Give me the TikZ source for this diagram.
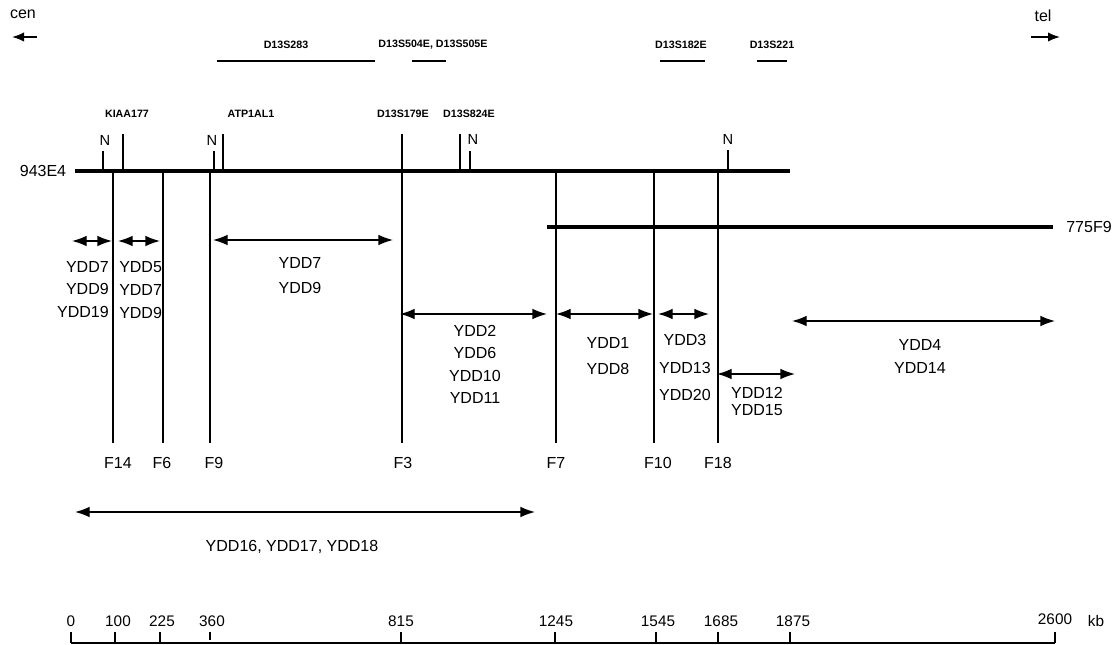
\documentclass[tikz,border=0pt]{standalone}
\usepackage{fontspec}
\setmainfont{Liberation Sans}
\usetikzlibrary{arrows.meta}

\begin{document}
\begin{tikzpicture}[x=0.75pt,y=-0.75pt,
  txt/.style={inner sep=0pt,font=\fontsize{12}{14}\selectfont},
  stack/.style={inner sep=0pt,align=center,font=\fontsize{12}{#1}\selectfont},
  gene/.style={inner sep=0pt,font=\fontsize{8}{9}\selectfont\bfseries},
  scalelab/.style={inner sep=0pt,font=\fontsize{11.5}{13}\selectfont},
  clone/.style={line width=3.5pt},
  bar/.style={line width=1.5pt},
  site/.style={line width=1.2pt},
  ydd/.style={line width=1pt,{Latex[length=11pt,width=8pt]}-{Latex[length=11pt,width=8pt]}},
  orient/.style={line width=1.2pt,-{Latex[length=9pt,width=7pt]}}]
  \useasboundingbox (0,0) rectangle (1115,645);
  % centromere / telomere
  \node[txt] (cen) at (23,14) {cen};
  \node[txt] (tel) at (1043,16) {tel};
  \coordinate (cenA) at (37,37);
  \coordinate (cenB) at (12,37);
  \coordinate (telA) at (1031,37);
  \coordinate (telB) at (1060,37);
  \draw[orient] (cenA) -- (cenB);
  \draw[orient] (telA) -- (telB);
  % markers
  \node[gene] (d283) at (286,45) {D13S283};
  \node[gene] (d504) at (433,45) {D13S504E, D13S505E};
  \node[gene] (d182) at (681,45) {D13S182E};
  \node[gene] (d221) at (772,45) {D13S221};
  \draw[bar] (217,61) -- (375,61);
  \draw[bar] (412,61) -- (446,61);
  \draw[bar] (660,61) -- (705,61);
  \draw[bar] (757,61) -- (787,61);
  % genes and NotI sites
  \node[gene] (kiaa) at (127,114) {KIAA177};
  \node[gene] (atp) at (251,114) {ATP1AL1};
  \node[gene] (d179) at (403,114) {D13S179E};
  \node[gene] (d824) at (469,114) {D13S824E};
  \node[txt,font=\fontsize{11}{13}\selectfont] (n1) at (105,140) {N};
  \node[txt,font=\fontsize{11}{13}\selectfont] (n2) at (212,140) {N};
  \node[txt,font=\fontsize{11}{13}\selectfont] (n3) at (473,139) {N};
  \node[txt,font=\fontsize{11}{13}\selectfont] (n4) at (728,139) {N};
  \draw[site] (103,151) -- (103,171);
  \draw[site] (123,134) -- (123,171);
  \draw[site] (214,151) -- (214,171);
  \draw[site] (223,134) -- (223,171);
  \draw[site] (460,134) -- (460,171);
  \draw[site] (470,151) -- (470,171);
  \draw[site] (728,150) -- (728,171);
  % clones
  \node[txt] (c943) at (43,171) {943E4};
  \node[txt] (c775) at (1089,227) {775F9};
  \draw[clone] (75,171) -- (790,171);
  \draw[clone] (547,227) -- (1053,227);
  % breakpoints
  \draw[site] (113,171) -- (113,443);
  \draw[site] (163,171) -- (163,443);
  \draw[site] (210,171) -- (210,443);
  \draw[site] (402,134) -- (402,443);
  \draw[site] (556,171) -- (556,443);
  \draw[site] (654,171) -- (654,443);
  \draw[site] (718,171) -- (718,443);
  \node[txt] (F14) at (118,463) {F14};
  \node[txt] (F6) at (162,463) {F6};
  \node[txt] (F9) at (214,463) {F9};
  \node[txt] (F3) at (403,463) {F3};
  \node[txt] (F7) at (556,463) {F7};
  \node[txt] (F10) at (658,463) {F10};
  \node[txt] (F18) at (718,463) {F18};
  % patient intervals
  \draw[ydd] (72,241) -- (112,241);
  \draw[ydd] (118,241) -- (160,241);
  \draw[ydd] (213,240) -- (393,240);
  \draw[ydd] (400,314) -- (547,314);
  \draw[ydd] (556,314) -- (653,314);
  \draw[ydd] (658,314) -- (709,314);
  \draw[ydd] (717,374) -- (795,374);
  \draw[ydd] (792,321) -- (1055,321);
  \draw[ydd] (75,512) -- (535,512);
  \node[stack=16.9pt,align=right,anchor=east] (p1) at (109,289.5) {YDD7\\YDD9\\YDD19};
  \node[stack=17.25pt,align=left,anchor=west] (p2) at (119,290) {YDD5\\YDD7\\YDD9};
  \node[stack=18.75pt] (p3) at (300,275.5) {YDD7\\YDD9};
  \node[stack=16.75pt] (p4) at (475,364.5) {YDD2\\YDD6\\YDD10\\YDD11};
  \node[stack=19.5pt] (p5) at (608,356) {YDD1\\YDD8};
  \node[stack=20.6pt] (p6) at (685,367.5) {YDD3\\YDD13\\YDD20};
  \node[stack=12.75pt] (p7) at (757,401.5) {YDD12\\YDD15};
  \node[stack=17.25pt] (p8) at (920,356.5) {YDD4\\YDD14};
  \node[txt] (p9) at (292,547) {YDD16, YDD17, YDD18};
  % scale
  \draw[site] (71,643) -- (1055,643);
  \draw[site] (71,632) -- (71,643);
  \draw[site] (115,632) -- (115,643);
  \draw[site] (160,632) -- (160,643);
  \draw[site] (210,632) -- (210,640);
  \draw[site] (401,632) -- (401,643);
  \draw[site] (555,632) -- (555,643);
  \draw[site] (656,632) -- (656,643);
  \draw[site] (718,632) -- (718,643);
  \draw[site] (790,632) -- (790,643);
  \draw[site] (1055,632) -- (1055,643);
  \node[scalelab] (k0) at (71,621) {0};
  \node[scalelab] (k100) at (118,621) {100};
  \node[scalelab] (k225) at (162,621) {225};
  \node[scalelab] (k360) at (212,621) {360};
  \node[scalelab] (k815) at (401,621) {815};
  \node[scalelab] (k1245) at (556,621) {1245};
  \node[scalelab] (k1545) at (658,621) {1545};
  \node[scalelab] (k1685) at (721,621) {1685};
  \node[scalelab] (k1875) at (793,621) {1875};
  \node[scalelab] (k2600) at (1055,619) {2600};
  \node[scalelab] (kb) at (1096,621) {kb};
\end{tikzpicture}
\end{document}
